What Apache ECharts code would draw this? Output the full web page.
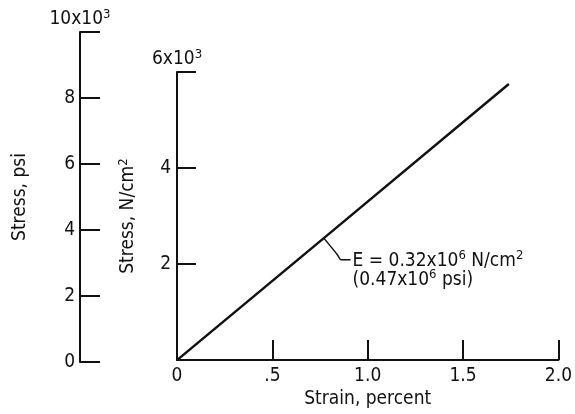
<!DOCTYPE html>
<html>
<head>
<meta charset="utf-8">
<script src="https://cdn.jsdelivr.net/npm/echarts@6/dist/echarts.min.js"></script>
<style>
  html, body { margin: 0; padding: 0; background: #fff; }
  #main { width: 575px; height: 414px; }
</style>
</head>
<body>
<div id="main"></div>
<script>
  // stress-strain curve (strain in percent, stress in 10^3 N/cm^2)
  var strain = [0, 0.77, 1.74]
  var stress = [0, 2.54, 5.75]
  // leader from the curve to the modulus note
  var leaderX = [0.77, 0.84, 0.86, 0.91]
  var leaderY = [2.54, 2.2, 2.09, 2.09]
  // tick labels
  var strainTicks = ['0', '.5', '1.0', '1.5', '2.0']
  var psiTicks = ['0', '2', '4', '6', '8', '']
  var nTicks = ['', '2', '4', '']

  var font = '"DejaVu Sans Condensed", "Liberation Sans Narrow", sans-serif'
  var ink = '#111'
  var fs = 19

  var rich = {
    t: { fontFamily: font, fontSize: fs, color: ink },
    s: { fontFamily: font, fontSize: 13, color: ink, verticalAlign: 'bottom', padding: [0, 0, 9, 0] }
  }

  function hiddenAxis (extra) {
    return Object.assign({
      axisLine: { show: false },
      axisTick: { show: false },
      axisLabel: { show: false },
      splitLine: { show: false }
    }, extra)
  }

  function pairs (xs, ys) {
    return xs.map(function (x, i) { return [x, ys[i]] })
  }

  var chart = echarts.init(document.getElementById('main'))

  var options = {
    animation: false,
    backgroundColor: '#fff',
    textStyle: { fontFamily: font, color: ink },
    grid: [
      { left: 177, right: 12, top: 72, bottom: 52 },
      { left: 80, width: 20, top: 32, bottom: 52 }
    ],
    xAxis: [{
      gridIndex: 0,
      type: 'value',
      min: 0,
      max: 2,
      interval: 0.5,
      axisLine: { lineStyle: { color: ink, width: 2 } },
      axisTick: { inside: true, length: 20, lineStyle: { color: ink, width: 2 } },
      axisLabel: {
        margin: 6,
        fontSize: fs,
        color: ink,
        fontFamily: font,
        formatter: function (v) { return strainTicks[Math.round(v * 2)] }
      },
      splitLine: { show: false },
      name: 'Strain, percent',
      nameLocation: 'middle',
      nameGap: 29,
      nameTextStyle: { fontSize: fs, color: ink, fontFamily: font }
    }, hiddenAxis({
      gridIndex: 1,
      type: 'value',
      min: 0,
      max: 1
    })],
    yAxis: [{
      gridIndex: 0,
      type: 'value',
      position: 'left',
      min: 0,
      max: 6,
      interval: 2,
      axisLine: { lineStyle: { color: ink, width: 2 } },
      axisTick: { inside: true, length: 19, lineStyle: { color: ink, width: 2 } },
      axisLabel: {
        margin: 6,
        fontSize: fs,
        color: ink,
        fontFamily: font,
        formatter: function (v) { return nTicks[Math.round(v / 2)] }
      },
      splitLine: { show: false },
      name: '{t|6x10}{s|3}',
      nameLocation: 'end',
      nameGap: 2,
      nameTextStyle: { rich: rich }
    }, hiddenAxis({
      gridIndex: 0,
      type: 'value',
      position: 'left',
      offset: 0,
      min: 0,
      max: 6,
      name: '{t|Stress, N/cm}{s|2}',
      nameLocation: 'middle',
      nameRotate: 90,
      nameGap: 38,
      nameTextStyle: { rich: rich }
    }), {
      gridIndex: 1,
      type: 'value',
      position: 'left',
      min: 0,
      max: 10,
      interval: 2,
      axisLine: { lineStyle: { color: ink, width: 2 } },
      axisTick: { inside: true, length: 20, lineStyle: { color: ink, width: 2 } },
      axisLabel: {
        margin: 5,
        fontSize: fs,
        color: ink,
        fontFamily: font,
        formatter: function (v) { return psiTicks[Math.round(v / 2)] }
      },
      splitLine: { show: false },
      name: '{t|10x10}{s|3}',
      nameLocation: 'end',
      nameGap: 2,
      nameTextStyle: { rich: rich }
    }, hiddenAxis({
      gridIndex: 1,
      type: 'value',
      position: 'left',
      offset: 0,
      min: 0,
      max: 10,
      name: 'Stress, psi',
      nameLocation: 'middle',
      nameRotate: 90,
      nameGap: 50,
      nameTextStyle: { fontSize: fs, color: ink, fontFamily: font }
    })],
    series: [{
      name: 'stress',
      type: 'line',
      xAxisIndex: 0,
      yAxisIndex: 0,
      symbol: 'none',
      lineStyle: { color: ink, width: 2.5 },
      data: pairs(strain, stress)
    }, {
      name: 'leader',
      type: 'line',
      xAxisIndex: 0,
      yAxisIndex: 0,
      symbol: 'none',
      smooth: 0.2,
      lineStyle: { color: ink, width: 1.5 },
      endLabel: {
        show: true,
        distance: 2,
        offset: [0, 11],
        lineHeight: 19,
        formatter: '{t|E = 0.32x10}{s|6}{t| N/cm}{s|2}\n{t|(0.47x10}{s|6}{t| psi)}',
        rich: rich
      },
      data: pairs(leaderX, leaderY)
    }]
  }

  chart.setOption(options)
</script>
</body>
</html>
